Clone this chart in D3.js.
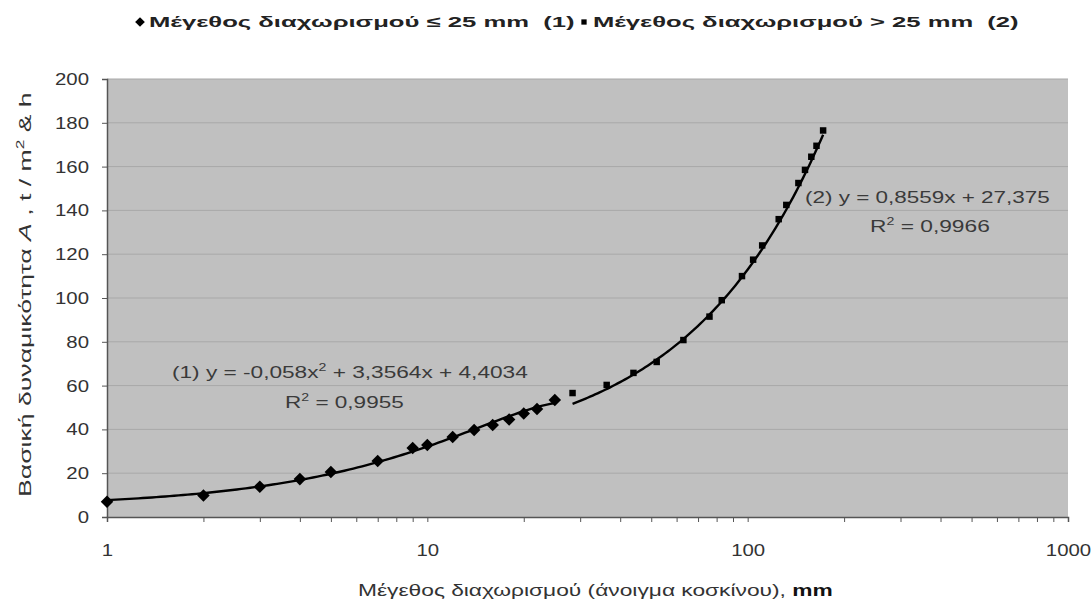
<html lang="el">

<head>
  <meta charset="utf-8">
  <title>Βασική δυναμικότητα</title>
  <script type="text/javascript" src="https://d3js.org/d3.v7.min.js"></script>
  <style>
    body { margin: 0; background: #fff; }
    text { font-family: "Liberation Sans", Arial, sans-serif; }
  </style>
</head>

<body>
  <svg width="1091" height="605"></svg>
  <script>
    // series (1): size <= 25 mm
    const x1 = [1, 2, 3, 4, 5, 7, 9, 10, 12, 14, 16, 18, 20, 22, 25];
    const y1 = [7, 9.8, 13.8, 17.3, 20.5, 25.6, 31.5, 32.9, 36.5, 39.7, 42, 44.5, 47.3, 49.3, 53.4];
    // series (2): size > 25 mm
    const x2 = [28.4, 36.3, 44, 52, 63, 76, 83, 96, 104, 111, 125, 132, 144, 151, 158, 164, 172];
    const y2 = [56.6, 60.3, 65.8, 70.8, 80.8, 91.5, 99, 110, 117.5, 124, 136, 142.5, 152.5, 158.5, 164.5, 169.5, 176.5];

    const yTicks = d3.range(0, 201, 20);
    const xTicks = [1, 10, 100, 1000];

    const svg = d3.select("svg");
    const x = d3.scaleLog().domain([1, 1000]).range([107, 1068]);
    const y = d3.scaleLinear().domain([0, 200]).range([517, 79]);

    // stretch a text horizontally to a given width, keeping its left edge
    function fit(sel, w) {
      const b = sel.node().getBBox();
      const s = w / b.width;
      sel.attr("transform", `translate(${b.x},0) scale(${s},1) translate(${-b.x},0)`);
    }

    // plot area
    svg.append("rect")
      .attr("x", x(1)).attr("y", y(200))
      .attr("width", x(1000) - x(1)).attr("height", y(0) - y(200))
      .attr("fill", "#c0c0c0");

    svg.append("g")
      .selectAll("line")
      .data(yTicks.filter(d => d > 0))
      .enter().append("line")
      .attr("x1", x(1)).attr("x2", x(1000))
      .attr("y1", d => y(d)).attr("y2", d => y(d))
      .attr("stroke", "#a8a8a8").attr("stroke-width", 1);

    // axes
    const yAxis = svg.append("g")
      .attr("transform", `translate(${x(1)},0)`)
      .call(d3.axisLeft(y).tickValues(yTicks).tickSize(5).tickPadding(13));
    const xAxis = svg.append("g")
      .attr("transform", `translate(0,${y(0)})`)
      .call(d3.axisBottom(x).tickValues(x.ticks()).tickSize(5)
        .tickFormat(d => xTicks.includes(d) ? d : "").tickPadding(22));
    [yAxis, xAxis].forEach(a => {
      a.select(".domain").attr("stroke", "#555").attr("stroke-width", 1.5);
      a.selectAll(".tick line").attr("stroke", "#555");
      a.selectAll("text").attr("fill", "#333").style("font-size", "17px")
        .style("font-family", "'Liberation Sans', Arial, sans-serif");
    });
    // labels look horizontally stretched in the original
    [yAxis, xAxis].forEach(a => a.selectAll(".tick text").each(function () {
      const t = d3.select(this);
      if (!t.text()) return;
      const b = this.getBBox();
      const cx = a === yAxis ? b.x + b.width : b.x + b.width / 2;
      t.attr("transform", `translate(${cx},0) scale(1.2,1) translate(${-cx},0)`);
    }));

    // trend lines
    const poly = v => -0.058 * v * v + 3.3564 * v + 4.4034;
    const lin = v => 0.8559 * v + 27.375;
    const line = d3.line().x(d => x(d[0])).y(d => y(d[1]));
    const logStep = (a, b) => d3.range(0, 101).map(i => Math.pow(10, Math.log10(a) + (Math.log10(b) - Math.log10(a)) * i / 100));

    svg.append("path")
      .datum(logStep(x1[0], x1[x1.length - 1]).map(v => [v, poly(v)]))
      .attr("d", line).attr("fill", "none").attr("stroke", "#000").attr("stroke-width", 2.4);
    svg.append("path")
      .datum(logStep(x2[0], x2[x2.length - 1]).map(v => [v, lin(v)]))
      .attr("d", line).attr("fill", "none").attr("stroke", "#000").attr("stroke-width", 2.4);

    // markers
    svg.append("g").selectAll("path")
      .data(x1.map((v, i) => [v, y1[i]]))
      .enter().append("path")
      .attr("d", d3.symbol().type(d3.symbolDiamond2).size(100))
      .attr("transform", d => `translate(${x(d[0])},${y(d[1])})`)
      .attr("fill", "#000");
    svg.append("g").selectAll("path")
      .data(x2.map((v, i) => [v, y2[i]]))
      .enter().append("path")
      .attr("d", d3.symbol().type(d3.symbolSquare).size(42))
      .attr("transform", d => `translate(${x(d[0])},${y(d[1])})`)
      .attr("fill", "#000");

    // equations
    const eq = svg.append("g").attr("fill", "#3a3a3a").style("font-size", "16px");
    const e1 = eq.append("text").attr("x", 172).attr("y", 378);
    e1.append("tspan").text("(1)   y = -0,058x");
    e1.append("tspan").attr("dy", -7).style("font-size", "10px").text("2");
    e1.append("tspan").attr("dy", 7).text(" + 3,3564x + 4,4034");
    fit(e1, 356);
    const r1 = eq.append("text").attr("x", 285).attr("y", 408);
    r1.append("tspan").text("R");
    r1.append("tspan").attr("dy", -7).style("font-size", "10px").text("2");
    r1.append("tspan").attr("dy", 7).text(" = 0,9955");
    fit(r1, 119);

    const e2 = eq.append("text").attr("x", 805).attr("y", 203).text("(2)   y = 0,8559x + 27,375");
    fit(e2, 245);
    const r2 = eq.append("text").attr("x", 870).attr("y", 232);
    r2.append("tspan").text("R");
    r2.append("tspan").attr("dy", -7).style("font-size", "10px").text("2");
    r2.append("tspan").attr("dy", 7).text(" = 0,9966");
    fit(r2, 120);

    // legend
    const lg = svg.append("g").style("font-size", "15px").style("font-weight", "bold").attr("fill", "#222");
    lg.append("path").attr("d", d3.symbol().type(d3.symbolDiamond2).size(60))
      .attr("transform", "translate(140,22)").attr("fill", "#000");
    const l1 = lg.append("text").attr("x", 149).attr("y", 27).attr("xml:space", "preserve")
      .text("Μέγεθος διαχωρισμού ≤ 25 mm  (1)");
    fit(l1, 426);
    lg.append("path").attr("d", d3.symbol().type(d3.symbolSquare).size(28))
      .attr("transform", "translate(584,22)").attr("fill", "#000");
    const l2 = lg.append("text").attr("x", 593).attr("y", 27).attr("xml:space", "preserve")
      .text("Μέγεθος διαχωρισμού > 25 mm  (2)");
    fit(l2, 426);

    // axis titles
    const xt = svg.append("text").attr("x", 358).attr("y", 596)
      .attr("fill", "#333").style("font-size", "16px");
    xt.append("tspan").text("Μέγεθος διαχωρισμού (άνοιγμα κοσκίνου), ");
    xt.append("tspan").style("font-weight", "bold").attr("fill", "#111").text("mm");
    fit(xt, 475);

    const ytg = svg.append("g").attr("transform", "translate(31,497) rotate(-90)");
    const yt = ytg.append("text").attr("x", 0).attr("y", 0)
      .attr("fill", "#333").style("font-size", "17px");
    yt.append("tspan").text("Βασική δυναμικότητα ");
    yt.append("tspan").style("font-style", "italic").text("A");
    yt.append("tspan").text(" ,  t / m");
    yt.append("tspan").attr("dy", -7).style("font-size", "11px").text("2");
    yt.append("tspan").attr("dy", 7).text(" & h");
    fit(yt, 405);
  </script>
</body>

</html>
